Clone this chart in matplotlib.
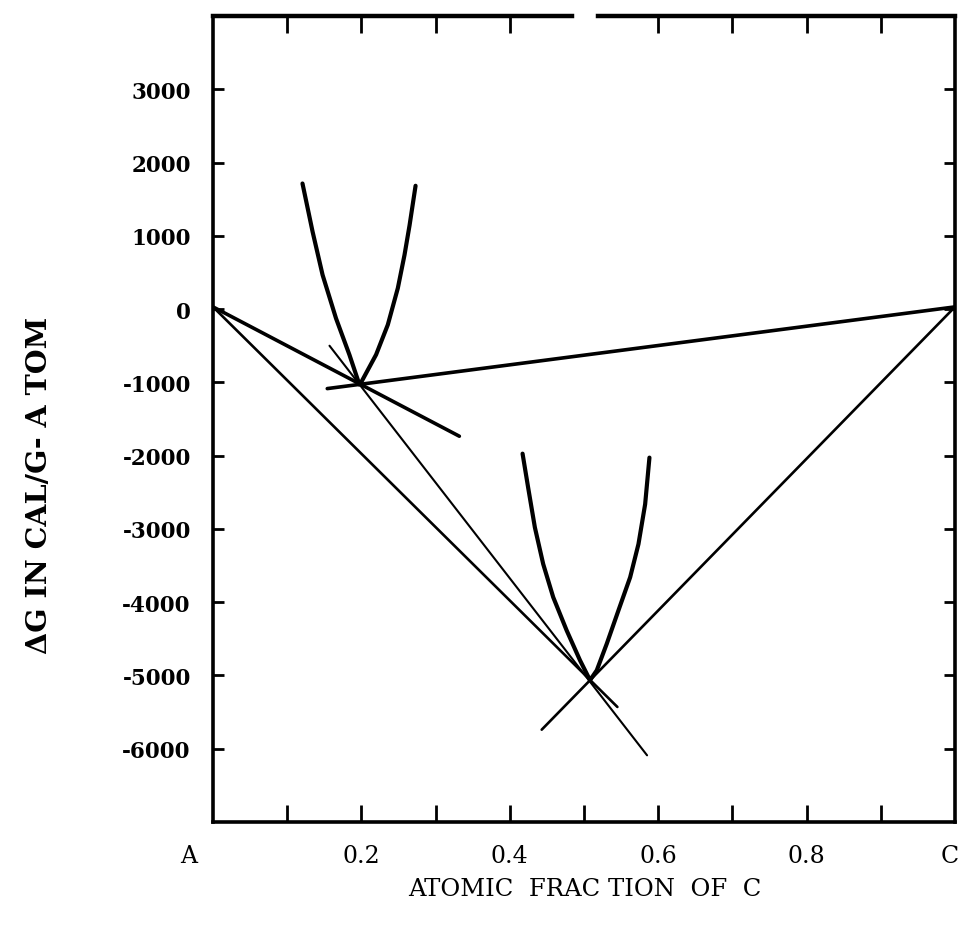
import matplotlib
matplotlib.use("Agg")
import matplotlib.pyplot as plt
import numpy as np

# straight tie lines (x = atomic fraction of C, y = dG)
a_p1_x = [0.0, 0.332]
a_p1_y = [30, -1735]
p1_c_x = [0.154, 1.0]
p1_c_y = [-1085, 30]
a_p2_x = [0.0, 0.545]
a_p2_y = [30, -5430]
thin_x = [0.157, 0.585]
thin_y = [-500, -6090]
c_p2_x = [1.0, 0.443]
c_p2_y = [30, -5740]

# free energy curve of the first phase
curve1_x = [0.1206, 0.1342, 0.1477, 0.1658, 0.1838, 0.1973,
            0.2005, 0.2198, 0.2356, 0.2491, 0.2581, 0.2649, 0.2730]
curve1_y = [1714, 1057, 466, -127, -622, -1030,
            -984, -622, -214, 286, 739, 1143, 1683]

# free energy curve of the second phase
curve2_x = [0.4172, 0.4247, 0.4338, 0.4450, 0.4585, 0.4766, 0.4946, 0.5081,
            0.5172, 0.5307, 0.5464, 0.5622, 0.5734, 0.5824, 0.5882]
curve2_y = [-1973, -2435, -2980, -3479, -3932, -4385, -4793, -5065,
            -4930, -4567, -4113, -3660, -3207, -2663, -2027]

xticks_major = [0.2, 0.4, 0.6, 0.8]
xtick_labels = ["0.2", "0.4", "0.6", "0.8"]
top_ticks = [0.1, 0.2, 0.3, 0.4, 0.6, 0.7, 0.8, 0.9]
yticks = [-6000, -5000, -4000, -3000, -2000, -1000, 0, 1000, 2000, 3000]

fig = plt.figure(figsize=(9.6, 9.28), dpi=100)
ax = fig.add_axes([213 / 960, 1 - 823 / 928, 742 / 960, (823 - 17) / 928])

ax.plot(a_p1_x, a_p1_y, color="black", lw=2.6, solid_capstyle="round")
ax.plot(p1_c_x, p1_c_y, color="black", lw=2.6, solid_capstyle="round")
ax.plot(a_p2_x, a_p2_y, color="black", lw=1.9, solid_capstyle="round")
ax.plot(thin_x, thin_y, color="black", lw=1.5, solid_capstyle="round")
ax.plot(c_p2_x, c_p2_y, color="black", lw=1.9, solid_capstyle="round")
ax.plot(curve1_x, curve1_y, color="black", lw=3.0, solid_capstyle="round",
        solid_joinstyle="round")
ax.plot(curve2_x, curve2_y, color="black", lw=3.0, solid_capstyle="round",
        solid_joinstyle="round")

ax.set_xlim(0, 1)
ax.set_ylim(-7000, 4000)

ax.set_xticks(xticks_major)
ax.set_xticklabels(xtick_labels, fontfamily="DejaVu Serif", fontsize=17)
ax.set_xticks(np.arange(0.1, 1.0, 0.2), minor=True)
ax.set_yticks(yticks)
ax.set_yticklabels([str(v) for v in yticks], fontfamily="DejaVu Serif",
                   fontsize=15.5, fontweight="bold")

ax.tick_params(axis="x", which="both", direction="in", length=12, width=2,
               pad=16)
ax.tick_params(axis="y", direction="in", length=8, width=2, right=True, pad=16)

# end labels A and C sit a bit away from the tick positions
ax.text(-0.033, -0.042, "A", transform=ax.get_xaxis_transform(), ha="center",
        va="center", fontfamily="DejaVu Serif", fontsize=17)
ax.text(0.993, -0.042, "C", transform=ax.get_xaxis_transform(), ha="center",
        va="center", fontfamily="DejaVu Serif", fontsize=17)

top = ax.secondary_xaxis("top")
top.set_xticks(top_ticks)
top.tick_params(direction="in", length=12, width=2, labeltop=False)
top.spines["top"].set_visible(False)

for side in ["left", "right", "bottom"]:
    ax.spines[side].set_linewidth(2.6)
ax.spines["top"].set_visible(False)
# top border is broken near the middle in the original print
ax.plot([0, 0.484], [4000, 4000], color="black", lw=3.2, clip_on=False)
ax.plot([0.519, 1], [4000, 4000], color="black", lw=3.2, clip_on=False)

fig.text(585 / 960, 1 - 890 / 928, "ATOMIC  FRAC TION  OF  C", ha="center",
         va="center", fontfamily="DejaVu Serif", fontsize=17.5)
fig.text(40 / 960, 1 - 485 / 928, "ΔG IN CAL/G- A TOM", ha="center",
         va="center", rotation=90, fontfamily="DejaVu Serif", fontsize=20.5,
         fontweight="bold")

fig.savefig("out.png", dpi=100)
